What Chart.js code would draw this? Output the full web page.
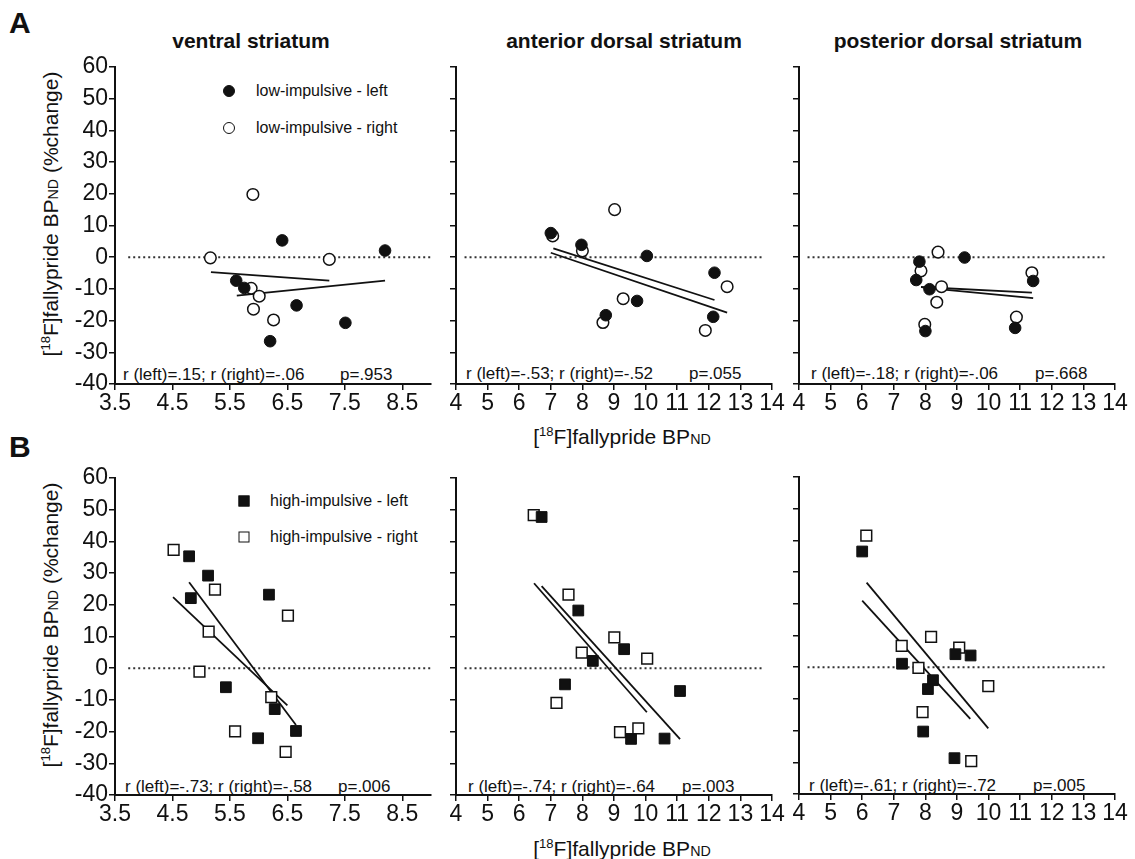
<!DOCTYPE html>
<html>
<head>
<meta charset="utf-8">
<script src="https://cdn.jsdelivr.net/npm/chart.js@4.4.1/dist/chart.umd.min.js"></script>
<style>
  body { margin: 0; width: 1135px; height: 859px; background: #fff; position: relative; overflow: hidden;
         font-family: "Liberation Sans", Arial, sans-serif; color: #111; }
  canvas { position: absolute; }
  .txt { position: absolute; white-space: nowrap; line-height: 1; }
  .title { font-weight: bold; font-size: 21px; transform: translate(-50%, -50%); }
  .letter { font-weight: bold; font-size: 30px; }
  .axis { font-size: 21px; transform: translate(-50%, -50%); }
  .yaxis { font-size: 21px; transform: translate(-50%, -50%) rotate(-90deg); }
  .axis sup, .yaxis sup { font-size: 0.62em; vertical-align: 0.55em; }
  .axis sub, .yaxis sub { font-size: 0.68em; vertical-align: -0.05em; }
  .note { font-size: 17px; transform: translateY(-50%); }
  .leg { font-size: 16px; transform: translateY(-50%); }
  .mk { position: absolute; box-sizing: border-box; border: 1.5px solid #111; transform: translate(-50%, -50%); }
</style>
</head>
<body>

<div class="txt letter" style="left:9px; top:8px;">A</div>
<div class="txt letter" style="left:9px; top:432px;">B</div>

<div class="txt title" style="left:251px; top:40px;">ventral striatum</div>
<div class="txt title" style="left:624px; top:40px;">anterior dorsal striatum</div>
<div class="txt title" style="left:958px; top:40px;">posterior dorsal striatum</div>

<div class="txt yaxis" style="left:50px; top:214px;">[<sup>18</sup>F]fallypride BP<sub>ND</sub> (%change)</div>
<div class="txt yaxis" style="left:50px; top:625px;">[<sup>18</sup>F]fallypride BP<sub>ND</sub> (%change)</div>
<div class="txt axis" style="left:622px; top:436px;">[<sup>18</sup>F]fallypride BP<sub>ND</sub></div>
<div class="txt axis" style="left:622px; top:848px;">[<sup>18</sup>F]fallypride BP<sub>ND</sub></div>

<!-- legends -->
<div class="mk" style="left:229px; top:91px; width:12px; height:12px; border-radius:50%; background:#111;"></div>
<div class="txt leg" style="left:256px; top:91px;">low-impulsive - left</div>
<div class="mk" style="left:229px; top:128px; width:12px; height:12px; border-radius:50%; background:#fff;"></div>
<div class="txt leg" style="left:256px; top:128px;">low-impulsive - right</div>
<div class="mk" style="left:244px; top:501px; width:11px; height:11px; background:#111;"></div>
<div class="txt leg" style="left:270px; top:501px;">high-impulsive - left</div>
<div class="mk" style="left:244px; top:537px; width:11px; height:11px; background:#fff;"></div>
<div class="txt leg" style="left:270px; top:537px;">high-impulsive - right</div>

<!-- correlation notes -->
<div class="txt note" style="left:123px; top:374px;">r (left)=.15; r (right)=-.06</div>
<div class="txt note" style="left:340px; top:374px;">p=.953</div>
<div class="txt note" style="left:466px; top:373px;">r (left)=-.53; r (right)=-.52</div>
<div class="txt note" style="left:689px; top:373px;">p=.055</div>
<div class="txt note" style="left:811px; top:373px;">r (left)=-.18; r (right)=-.06</div>
<div class="txt note" style="left:1035px; top:373px;">p=.668</div>
<div class="txt note" style="left:125px; top:786px;">r (left)=-.73; r (right)=-.58</div>
<div class="txt note" style="left:338px; top:786px;">p=.006</div>
<div class="txt note" style="left:468px; top:786px;">r (left)=-.74; r (right)=-.64</div>
<div class="txt note" style="left:682px; top:786px;">p=.003</div>
<div class="txt note" style="left:809px; top:785px;">r (left)=-.61; r (right)=-.72</div>
<div class="txt note" style="left:1033px; top:785px;">p=.005</div>

<canvas id="a1"></canvas>
<canvas id="a2"></canvas>
<canvas id="a3"></canvas>
<canvas id="b1"></canvas>
<canvas id="b2"></canvas>
<canvas id="b3"></canvas>

<script>
// tick values
const yTicks = [-40, -30, -20, -10, 0, 10, 20, 30, 40, 50, 60];
const xTicksVentral = [3.5, 4.5, 5.5, 6.5, 7.5, 8.5];
const xTicksDorsal = [4, 5, 6, 7, 8, 9, 10, 11, 12, 13, 14];

// A: low-impulsive, [BPND, %change]
const ventralLowLeft = [[6.41, 5.3], [8.20, 2.1], [5.61, -7.4], [5.75, -9.7], [6.66, -15.2], [7.51, -20.7], [6.20, -26.5]];
const ventralLowRight = [[5.90, 19.8], [5.16, -0.2], [7.23, -0.7], [5.87, -9.8], [6.01, -12.3], [5.91, -16.4], [6.26, -19.8]];
const antLowLeft = [[7.00, 7.6], [7.97, 3.9], [10.04, 0.4], [12.18, -4.9], [9.73, -13.8], [8.74, -18.3], [12.14, -18.8]];
const antLowRight = [[9.02, 15.0], [7.06, 6.7], [8.00, 2.0], [9.29, -13.1], [8.65, -20.6], [12.58, -9.3], [11.89, -23.1]];
const postLowLeft = [[7.81, -1.4], [9.24, -0.1], [7.71, -7.2], [8.13, -10.1], [11.41, -7.5], [10.84, -22.3], [8.00, -23.3]];
const postLowRight = [[8.40, 1.6], [7.86, -4.3], [8.51, -9.3], [8.36, -14.2], [7.98, -21.2], [11.37, -4.9], [10.88, -18.9]];

// B: high-impulsive
const ventralHighLeft = [[4.79, 35.3], [5.12, 29.2], [4.82, 22.1], [6.18, 23.2], [5.43, -6.0], [6.28, -12.9], [6.65, -19.8], [5.99, -22.1]];
const ventralHighRight = [[4.52, 37.3], [5.24, 24.8], [6.51, 16.6], [5.13, 11.5], [4.97, -1.1], [6.22, -9.1], [5.59, -19.9], [6.47, -26.4]];
const antHighLeft = [[6.71, 47.7], [7.87, 18.2], [9.32, 6.0], [8.33, 2.3], [7.45, -5.1], [11.09, -7.2], [9.54, -22.3], [10.60, -22.2]];
const antHighRight = [[6.46, 48.3], [7.56, 23.2], [9.01, 9.7], [7.98, 4.9], [10.05, 3.0], [7.18, -10.9], [9.19, -20.2], [9.77, -19.0]];
const postHighLeft = [[6.00, 36.5], [7.26, 1.1], [8.95, 4.1], [9.43, 3.7], [8.24, -4.1], [8.08, -6.9], [7.93, -20.3], [8.92, -28.7]];
const postHighRight = [[6.13, 41.5], [8.18, 9.6], [7.25, 6.7], [9.07, 6.2], [7.78, -0.2], [9.99, -6.0], [7.91, -14.2], [9.45, -29.6]];

// regression line end points
const ventralLowFitLeft = [[5.62, -12.1], [8.20, -7.4]];
const ventralLowFitRight = [[5.17, -4.7], [7.23, -7.4]];
const antLowFitLeft = [[7.08, 2.8], [12.18, -13.5]];
const antLowFitRight = [[7.00, 1.4], [12.58, -17.5]];
const postLowFitLeft = [[7.92, -9.6], [11.41, -12.9]];
const postLowFitRight = [[7.86, -9.4], [11.37, -11.2]];
const ventralHighFitLeft = [[4.79, 27.1], [6.65, -17.9]];
const ventralHighFitRight = [[4.51, 22.4], [6.50, -11.7]];
const antHighFitLeft = [[6.71, 25.9], [11.09, -22.4]];
const antHighFitRight = [[6.47, 26.8], [10.04, -13.9]];
const postHighFitLeft = [[6.00, 21.0], [9.42, -16.3]];
const postHighFitRight = [[6.14, 26.7], [9.99, -19.3]];

// dotted zero reference line span
const zeroSpanVentral = [3.73, 9.0];
const zeroSpanDorsal = [4.27, 13.7];

const ink = '#111';
const plotW = 316, plotH = 317;
const tickFont = { family: 'Liberation Sans, Arial', size: 23 };

function pts(arr) {
    return arr.map(p => ({ x: p[0], y: p[1] }));
}

function makePanel(id, o) {
    const yw = o.labels ? 60 : 30;
    const padTop = 15, padRight = 24, xh = 40;
    const cv = document.getElementById(id);
    cv.width = yw + plotW + padRight;
    cv.height = padTop + plotH + xh;
    cv.style.left = (o.left - yw) + 'px';
    cv.style.top = (o.top - padTop) + 'px';

    const shape = o.square ? 'rect' : 'circle';
    const r = o.square ? 7.6 : 5.8;
    const line = (d, extra) => Object.assign({
        data: pts(d), showLine: true, pointRadius: 0, borderColor: ink,
        borderWidth: 1.8, fill: false
    }, extra || {});

    new Chart(cv, {
        type: 'scatter',
        data: {
            datasets: [
                { data: pts(o.left_), pointStyle: shape, pointRadius: r, backgroundColor: ink, borderColor: ink, borderWidth: 1 },
                { data: pts(o.right_), pointStyle: shape, pointRadius: r, backgroundColor: '#fff', borderColor: ink, borderWidth: 1.5 },
                line(o.fitL),
                line(o.fitR),
                line([[o.zero[0], 0], [o.zero[1], 0]], { borderWidth: 2, borderDash: [2, 3], borderColor: '#333' })
            ]
        },
        options: {
            responsive: false,
            animation: false,
            events: [],
            layout: { padding: { top: padTop, right: padRight, left: 0, bottom: 0 } },
            plugins: { legend: { display: false }, tooltip: { enabled: false } },
            scales: {
                x: {
                    type: 'linear', min: o.xmin, max: o.xmax,
                    afterBuildTicks: s => { s.ticks = o.xTicks.map(v => ({ value: v })); },
                    afterFit: s => { s.height = xh; },
                    border: { color: ink, width: 2 },
                    grid: { drawOnChartArea: false, drawTicks: true, tickLength: 6, color: ink, lineWidth: 1.5 },
                    ticks: { autoSkip: false, maxRotation: 0, padding: 0, color: ink, font: tickFont }
                },
                y: {
                    min: -40, max: 60,
                    afterBuildTicks: s => { s.ticks = yTicks.map(v => ({ value: v })); },
                    afterFit: s => { s.width = yw; },
                    border: { color: ink, width: 2 },
                    grid: { drawOnChartArea: false, drawTicks: true, tickLength: 6, color: ink, lineWidth: 1.5 },
                    ticks: { padding: 1, color: ink, font: tickFont,
                             callback: v => o.labels ? v : '' }
                }
            }
        }
    });
}

makePanel('a1', { left: 115, top: 67, labels: true, xmin: 3.5, xmax: 9, xTicks: xTicksVentral, zero: zeroSpanVentral,
    left_: ventralLowLeft, right_: ventralLowRight, fitL: ventralLowFitLeft, fitR: ventralLowFitRight });
makePanel('a2', { left: 456, top: 67, xmin: 4, xmax: 14, xTicks: xTicksDorsal, zero: zeroSpanDorsal,
    left_: antLowLeft, right_: antLowRight, fitL: antLowFitLeft, fitR: antLowFitRight });
makePanel('a3', { left: 799, top: 67, xmin: 4, xmax: 14, xTicks: xTicksDorsal, zero: zeroSpanDorsal,
    left_: postLowLeft, right_: postLowRight, fitL: postLowFitLeft, fitR: postLowFitRight });
makePanel('b1', { left: 115, top: 478, labels: true, square: true, xmin: 3.5, xmax: 9, xTicks: xTicksVentral, zero: zeroSpanVentral,
    left_: ventralHighLeft, right_: ventralHighRight, fitL: ventralHighFitLeft, fitR: ventralHighFitRight });
makePanel('b2', { left: 456, top: 478, square: true, xmin: 4, xmax: 14, xTicks: xTicksDorsal, zero: zeroSpanDorsal,
    left_: antHighLeft, right_: antHighRight, fitL: antHighFitLeft, fitR: antHighFitRight });
makePanel('b3', { left: 799, top: 477, square: true, xmin: 4, xmax: 14, xTicks: xTicksDorsal, zero: zeroSpanDorsal,
    left_: postHighLeft, right_: postHighRight, fitL: postHighFitLeft, fitR: postHighFitRight });
</script>
</body>
</html>
